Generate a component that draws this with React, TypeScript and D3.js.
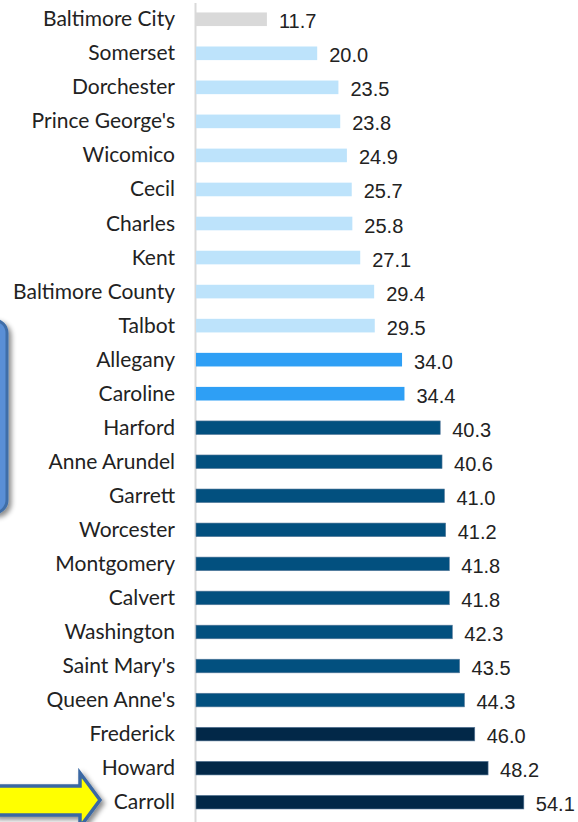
import React from "react";
import * as d3 from "d3";

const categories = [
  "Baltimore City", "Somerset", "Dorchester", "Prince George's", "Wicomico", "Cecil",
  "Charles", "Kent", "Baltimore County", "Talbot", "Allegany", "Caroline", "Harford",
  "Anne Arundel", "Garrett", "Worcester", "Montgomery", "Calvert", "Washington",
  "Saint Mary's", "Queen Anne's", "Frederick", "Howard", "Carroll",
];
const values = [
  11.7, 20.0, 23.5, 23.8, 24.9, 25.7, 25.8, 27.1, 29.4, 29.5, 34.0, 34.4, 40.3,
  40.6, 41.0, 41.2, 41.8, 41.8, 42.3, 43.5, 44.3, 46.0, 48.2, 54.1,
];
const groups = [
  0, 1, 1, 1, 1, 1, 1, 1, 1, 1, 2, 2, 3, 3, 3, 3, 3, 3, 3, 3, 3, 4, 4, 4,
];
const groupColors = ["#d9d9d9", "#bde3fb", "#2e9ff5", "#02507f", "#022848"];

export default function App() {
  const W = 578;
  const H = 822;
  const x = d3.scaleLinear().domain([0, 55]).range([196, 196 + 55 * 6.06]);
  const y = d3
    .scaleBand<string>()
    .domain(categories)
    .range([2.24, 819.2])
    .paddingInner(0.6)
    .paddingOuter(0.3);
  const bw = y.bandwidth();

  return (
    <svg
      width={W}
      height={H}
      style={{ position: "fixed", left: 0, top: 0, background: "#fff" }}
    >
      <defs>
        <filter id="shadow" x="-50%" y="-50%" width="200%" height="200%">
          <feDropShadow dx="3" dy="3" stdDeviation="2.5" floodColor="#000" floodOpacity="0.45" />
        </filter>
      </defs>
      <line x1={195.5} x2={195.5} y1={3} y2={H} stroke="#d9d9d9" strokeWidth={2} />
      {categories.map((c, i) => {
        const yc = (y(c) as number) + bw / 2;
        return (
          <g key={c}>
            <rect
              x={x(0)}
              y={y(c)}
              width={x(values[i]) - x(0)}
              height={bw}
              fill={groupColors[groups[i]]}
              stroke={groups[i] >= 3 ? "#5b7c9c" : "none"}
              strokeWidth={0.6}
            />
            <text
              x={175}
              y={yc + 7}
              textAnchor="end"
              fontFamily="Lato, 'Open Sans', sans-serif"
              fontSize={21}
              fill="#222"
            >
              {c}
            </text>
            <text
              x={x(values[i]) + 12}
              y={yc + 9}
              fontFamily="'Liberation Sans', Arial, sans-serif"
              fontSize={20}
              fill="#222"
            >
              {values[i].toFixed(1)}
            </text>
          </g>
        );
      })}
      <rect
        x={-40}
        y={320}
        width={47}
        height={193}
        rx={13}
        fill="#5a8fd6"
        stroke="#3f6ea8"
        strokeWidth={3}
        filter="url(#shadow)"
      />
      <polygon
        points="-5,786 80,786 80,773 100,800 80,827 80,815 -5,815"
        fill="#ffff00"
        stroke="#3b68a3"
        strokeWidth={3.5}
        strokeLinejoin="miter"
        filter="url(#shadow)"
      />
    </svg>
  );
}
